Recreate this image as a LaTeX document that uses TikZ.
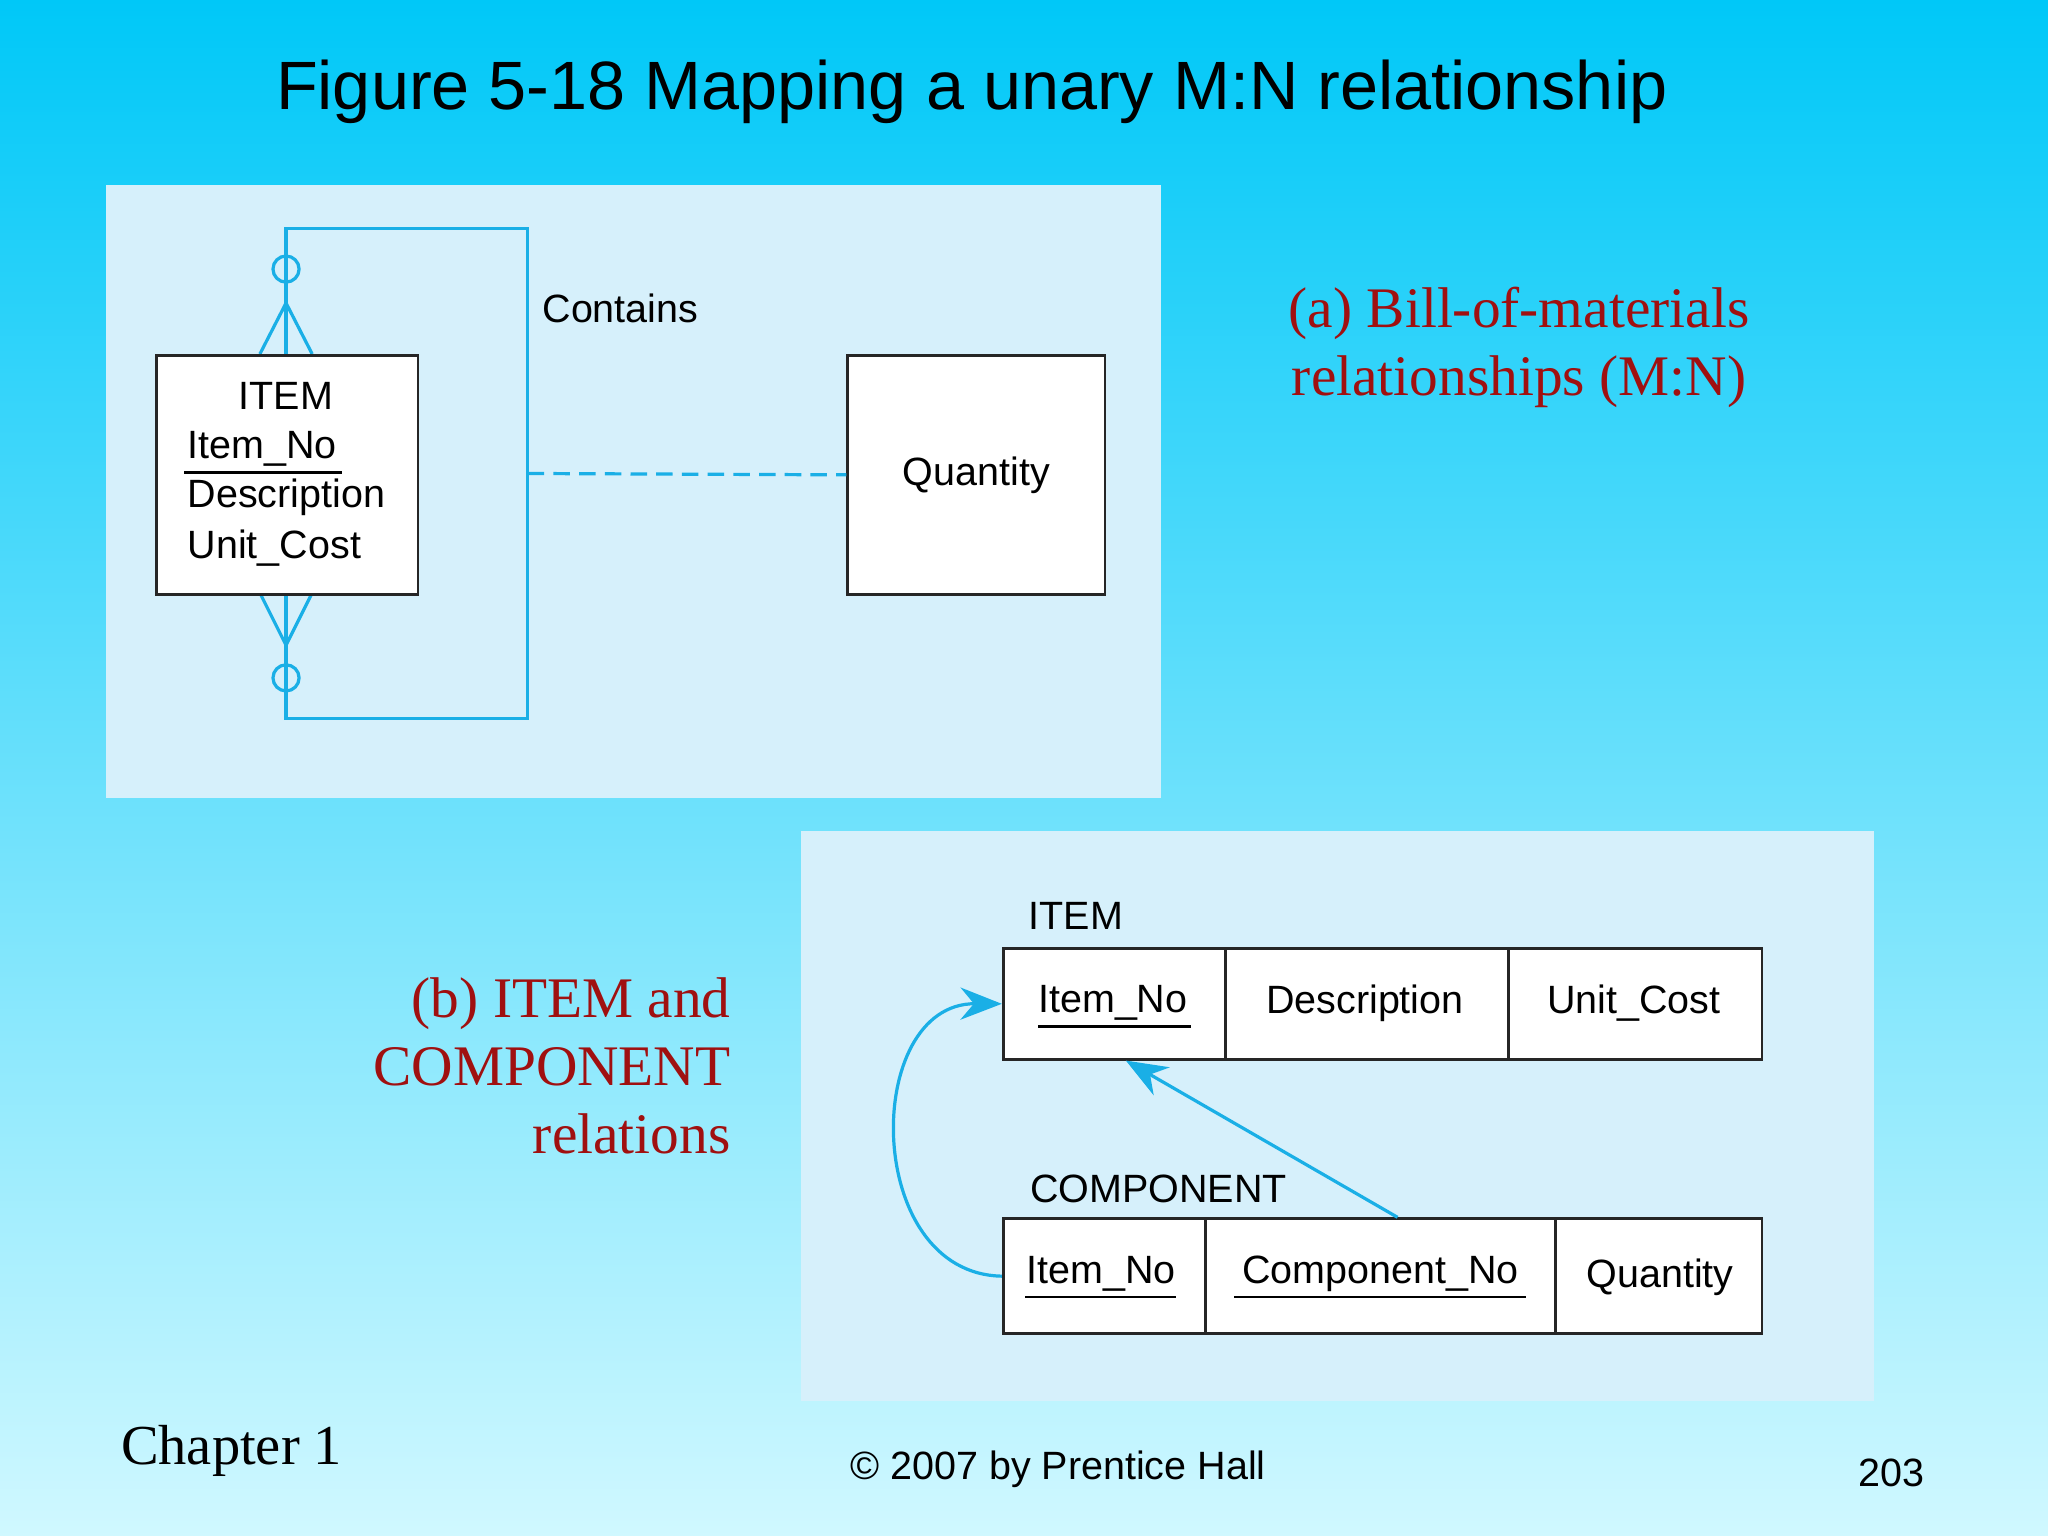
\documentclass[tikz,border=0pt]{standalone}
\usepackage{fontspec}
\setmainfont{Liberation Serif}
\setsansfont{Liberation Sans}
\usetikzlibrary{arrows.meta}
\definecolor{cy}{HTML}{1AAFE6}
\definecolor{pan}{HTML}{D6F0FB}
\definecolor{rd}{HTML}{A01010}
\begin{document}
\begin{tikzpicture}[x=0.1mm,y=-0.1mm,
  lbl/.style={font=\sffamily\fontsize{8.6}{10}\selectfont,inner sep=0},
  red/.style={font=\rmfamily\fontsize{12.5}{14.8}\selectfont,text=rd,inner sep=0,align=center},
  ent/.style={draw=black!85,line width=0.6pt,fill=white},
  cl/.style={draw=cy,line width=0.7pt}]
\useasboundingbox (0,0) rectangle (1568,1176);
\shade[top color={rgb,255:red,0;green,200;blue,248},bottom color={rgb,255:red,208;green,248;blue,255}] (0,0) rectangle (1568,1176);
\node[font=\sffamily\fontsize{14.9}{17}\selectfont,inner sep=0] (title) at (744,70) {Figure 5-18 Mapping a unary M:N relationship};
% panel a
\fill[pan] (81,142) rectangle (889,611);
\draw[cl] (219,271) -- (219,175) -- (404,175) -- (404,550) -- (219,550) -- (219,454);
\draw[cl] (219,206) circle (10);
\draw[cl] (199,271) -- (219,232) -- (239,271);
\draw[cl] (219,519) circle (10);
\draw[cl] (199,454) -- (219,494) -- (239,454);
\node[ent,minimum width=20mm,minimum height=18.3mm,anchor=north west] (item) at (119,271) {};
\node[lbl] (it) at (219,303) {ITEM};
\node[lbl,anchor=west] (in) at (143,344) {Item\_No};
\draw[line width=0.6pt] (141,362) -- (262,362);
\node[lbl,anchor=west] (de) at (143,381) {Description};
\node[lbl,anchor=west] (uc) at (143,420) {Unit\_Cost};
\node[ent,minimum width=19.7mm,minimum height=18.3mm,anchor=north west] (qty) at (648,271) {};
\node[lbl] at (qty.center) {Quantity};
\coordinate (dl) at (404,362.5);
\draw[cl,dash pattern=on 3.6pt off 2pt] (dl) -- (qty.west);
\node[lbl] (contains) at (475,236) {Contains};
\node[red] (ra) at (1163,266) {(a) Bill-of-materials\\relationships (M:N)};
% panel b
\fill[pan] (613,636) rectangle (1435,1073);
\node[red,align=right,anchor=east] (rb) at (560,816) {(b) ITEM and\\COMPONENT\\relations};
\node[lbl,anchor=west] (lt) at (787,701) {ITEM};
\node[ent,minimum width=17mm,minimum height=8.5mm,anchor=north west] (c1) at (767,725) {};
\node[ent,minimum width=21.7mm,minimum height=8.5mm,anchor=north west] (c2) at (937,725) {};
\node[ent,minimum width=19.4mm,minimum height=8.5mm,anchor=north west] (c3) at (1154,725) {};
\node[lbl] at (852,768) {Item\_No};
\draw[line width=0.6pt] (795,786) -- (912,786);
\node[lbl] at (1045,768) {Description};
\node[lbl] at (1251,768) {Unit\_Cost};
\node[lbl,anchor=west] (lc) at (788,910) {COMPONENT};
\node[ent,minimum width=15.5mm,minimum height=8.8mm,anchor=north west] (d1) at (767,932) {};
\node[ent,minimum width=26.8mm,minimum height=8.8mm,anchor=north west] (d2) at (922,932) {};
\node[ent,minimum width=15.8mm,minimum height=8.8mm,anchor=north west] (d3) at (1190,932) {};
\node[lbl] at (843,975) {Item\_No};
\draw[line width=0.6pt] (785,993) -- (900,993);
\node[lbl] at (1057,975) {Component\_No};
\draw[line width=0.6pt] (945,993) -- (1168,993);
\node[lbl] at (1271,978) {Quantity};
\draw[cl,-{Stealth[length=9pt,width=7pt]}] (d1.west) .. controls (660,975) and (660,768) .. (c1.west);
\coordinate (ds) at (1070,932);
\draw[cl,-{Stealth[length=9pt,width=7pt]}] (ds) -- (862,812);
% footer
\node[font=\rmfamily\fontsize{12.3}{14}\selectfont,anchor=west,inner sep=0] (ch) at (92,1111) {Chapter 1};
\node[font=\sffamily\fontsize{8.6}{10}\selectfont,inner sep=0] (cp) at (810,1125) {© 2007 by Prentice Hall};
\node[font=\sffamily\fontsize{8.6}{10}\selectfont,inner sep=0] (pg) at (1448,1128) {203};
\end{tikzpicture}
\end{document}
